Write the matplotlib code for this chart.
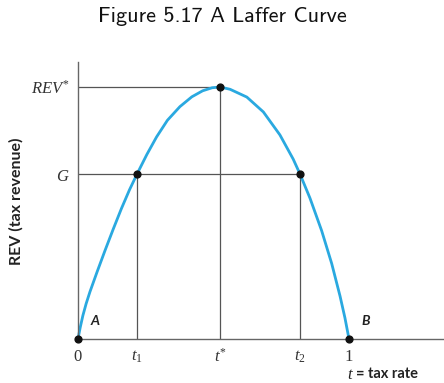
import matplotlib
matplotlib.use("Agg")
import matplotlib.pyplot as plt

# Data (t as share of full tax rate, revenue relative to REV*)
curve_t = [0.0, 0.008, 0.018, 0.030, 0.044, 0.070, 0.100, 0.130, 0.160, 0.190,
           0.218, 0.254, 0.290, 0.330, 0.376, 0.420, 0.460, 0.495, 0.524,
           0.561, 0.623, 0.684, 0.745, 0.794, 0.819, 0.856, 0.899, 0.936,
           0.967, 0.985, 1.0]
curve_rev = [0.0, 0.045, 0.093, 0.140, 0.187, 0.265, 0.352, 0.436, 0.517, 0.592,
             0.655, 0.732, 0.802, 0.868, 0.922, 0.961, 0.985, 0.997, 1.0,
             0.991, 0.960, 0.901, 0.810, 0.714, 0.655, 0.559, 0.430, 0.300,
             0.170, 0.084, 0.0]
t1, t_star, t2 = 0.218, 0.524, 0.819
rev_star = 1.0
g_level = 0.655
x_ticks = [0.0, t1, t_star, t2, 1.0]
x_tick_labels = ["$0$", "$t_1$", "$t^{*}$", "$t_2$", "$1$"]
y_ticks = [g_level, rev_star]
y_tick_labels = ["$G$", "$REV^{*}$"]
dot_t = [0.0, t1, t_star, t2, 1.0]
dot_rev = [0.0, g_level, rev_star, g_level, 0.0]

plt.rcParams["mathtext.fontset"] = "custom"
plt.rcParams["mathtext.rm"] = "Liberation Serif"
plt.rcParams["mathtext.it"] = "Liberation Serif:italic"

W, H = 444, 383
fig = plt.figure(figsize=(W / 100, H / 100), dpi=100)
ax = fig.add_axes([78 / W, 44 / H, 366 / W, 277 / H])
ax.set_xlim(0, 366 / 271)
ax.set_ylim(0, 277 / 252)

for s in ["top", "right"]:
    ax.spines[s].set_visible(False)
for s in ["left", "bottom"]:
    ax.spines[s].set_color("#666666")
    ax.spines[s].set_linewidth(1.0)

guide = dict(color="#555555", lw=0.9, zorder=1)
ax.plot([0, t_star], [rev_star, rev_star], **guide)
ax.plot([0, t2], [g_level, g_level], **guide)
ax.plot([t1, t1], [0, g_level], **guide)
ax.plot([t_star, t_star], [0, rev_star], **guide)
ax.plot([t2, t2], [0, g_level], **guide)

ax.plot(curve_t, curve_rev, color="#2aa9e0", lw=2.0, zorder=2,
        solid_joinstyle="round", solid_capstyle="round", clip_on=False)
ax.scatter(dot_t, dot_rev, s=24, color="#111111", zorder=3, clip_on=False)

ax.set_xticks(x_ticks)
ax.set_xticklabels(x_tick_labels, fontsize=12, color="#333333")
ax.set_yticks(y_ticks)
ax.set_yticklabels(y_tick_labels, fontsize=12, color="#333333")
ax.tick_params(length=0, pad=6)

ax.text(0.045, 0.055, "A", fontsize=10, fontweight="bold", fontstyle="italic",
        family="Lato", color="#222222")
ax.text(1.045, 0.055, "B", fontsize=10, fontweight="bold", fontstyle="italic",
        family="Lato", color="#222222")

fig.text(16 / W, 1 - 201 / H, "REV (tax revenue)", rotation=90, ha="center",
         va="center", fontsize=11.5, fontweight="bold", family="Lato",
         color="#222222")
fig.text(347 / W, 1 - 374 / H, "$t$", fontsize=12, ha="left", va="center",
         color="#222222")
fig.text(356 / W, 1 - 374 / H, "= tax rate", fontsize=10.5, fontweight="bold",
         family="Lato", ha="left", va="center", color="#222222")

fig.text(0.5, 1 - 16 / H, "Figure 5.17 A Laffer Curve", ha="center",
         va="center", fontsize=16, family="cmss10", color="#111111")

fig.savefig("out.png", dpi=100)
